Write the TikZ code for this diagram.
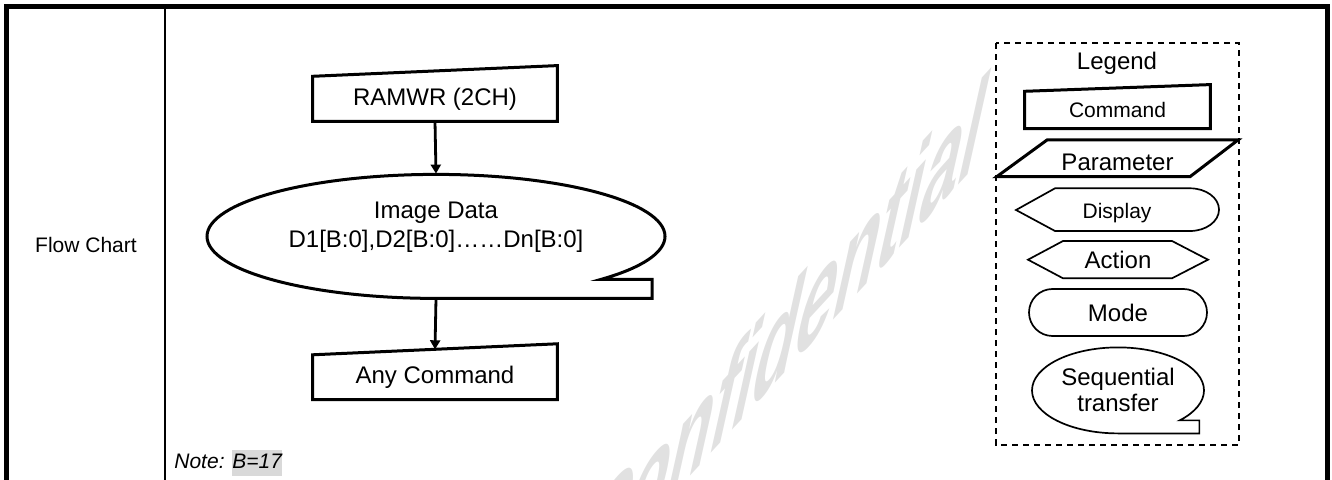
\documentclass[tikz,border=0pt]{standalone}
\usepackage{fontspec}
\setmainfont{Liberation Sans}
\usetikzlibrary{arrows.meta,shapes.geometric}
\definecolor{markgray}{HTML}{D9D9D9}
\definecolor{wmgray}{HTML}{E1E1E1}
\begin{document}
\begin{tikzpicture}[x=0.5pt,y=-0.5pt,
    bigtxt/.style={font=\fontsize{12}{14.4}\selectfont, inner sep=0pt, align=center},
    smalltxt/.style={font=\fontsize{10.5}{12.6}\selectfont, inner sep=0pt, align=center},
    heavy/.style={line width=1.5pt},
    light/.style={line width=0.85pt},
    flow/.style={line width=1.4pt, -{Triangle[width=5pt,length=4.5pt]}}]
    \useasboundingbox (0,0) rectangle (1332,480);
    \clip (0,0) rectangle (1332,480);

    % Watermark
    \begin{scope}[shift={(782,336)}, cm={0.70,0.76,0.33,1.48,(0,0)}]
        \node[text=wmgray, font=\fontsize{50}{50}\selectfont\bfseries, inner sep=0pt, transform shape] (wm) at (0,0) {Confidential};
    \end{scope}

    % Table frame
    \draw[line width=2.5pt] (6.5,490) -- (6.5,6.5) -- (1327.5,6.5) -- (1327.5,490);
    \draw[line width=1.2pt] (165,6.5) -- (165,490);
    \node[smalltxt] (title) at (86,245) {Flow Chart};

    % Flow chart
    \node[bigtxt, minimum width=122pt, minimum height=22.2pt] (ramwr) at (435,98.9) {RAMWR (2CH)};
    \draw[heavy] (ramwr.south west) -- (ramwr.north west) -- ([yshift=5.35pt]ramwr.north east) -- (ramwr.south east) -- cycle;

    \node[ellipse, minimum width=229pt, minimum height=62pt, inner sep=0pt] (img) at (436,236) {};
    \draw[heavy] (img.south) arc[start angle=90, end angle=403.9, x radius=229, y radius=62] -- ++(51,0) |- (img.south);
    \node[bigtxt] (imgtxt) at ([yshift=4.5pt]img.center) {Image Data\\D1[B:0],D2[B:0]……Dn[B:0]};

    \node[bigtxt, minimum width=122pt, minimum height=22pt] (anycmd) at (435,377.2) {Any Command};
    \draw[heavy] (anycmd.south west) -- (anycmd.north west) -- ([yshift=5.5pt]anycmd.north east) -- (anycmd.south east) -- cycle;

    \draw[flow] (ramwr.south) -- (img.north);
    \draw[flow] (img.south) -- ([yshift=2.75pt]anycmd.north);

    % Note
    \node[smalltxt, font=\fontsize{10.5}{12.6}\selectfont\itshape, anchor=west] (note) at (174,463)
        {Note: {\setlength{\fboxsep}{0pt}\colorbox{markgray}{\strut B=17}}};

    % Legend
    \draw[line width=0.85pt, dash pattern=on 3pt off 2.5pt] (996,43.3) rectangle (1239.3,445);
    \node[bigtxt] (lgtitle) at (1117,63.2) {Legend};

    \node[smalltxt, minimum width=92.5pt, minimum height=18.3pt] (lgcmd) at (1117.5,110) {Command};
    \draw[heavy] (lgcmd.south west) -- (lgcmd.north west) -- ([yshift=3.35pt]lgcmd.north east) -- (lgcmd.south east) -- cycle;

    \node[bigtxt] (lgpar) at (1117.5,162.3) {Parameter};
    \draw[heavy] ([shift={(-120.8,14.4)}]lgpar.center) -- ([shift={(-70.5,-22.3)}]lgpar.center)
        -- ([shift={(120.5,-22.3)}]lgpar.center) -- ([shift={(72.5,14.4)}]lgpar.center) -- cycle;

    \node[smalltxt] (lgdisp) at (1117,212.8) {Display};
    \draw[light] ([shift={(-101,-2.8)}]lgdisp.center) -- ([shift={(-62,-24.5)}]lgdisp.center)
        -- ([shift={(73,-24.5)}]lgdisp.center) arc[start angle=-90, end angle=90, x radius=29, y radius=21.35]
        -- ([shift={(-62,18.2)}]lgdisp.center) -- cycle;

    \node[bigtxt] (lgact) at (1118,259.7) {Action};
    \draw[light] ([shift={(-90,0)}]lgact.center) -- ([shift={(-55,-18.7)}]lgact.center)
        -- ([shift={(54,-18.7)}]lgact.center) -- ([shift={(90,0)}]lgact.center)
        -- ([shift={(54,18.6)}]lgact.center) -- ([shift={(-55,18.6)}]lgact.center) -- cycle;

    \node[bigtxt, draw, light, rounded corners=11.75pt, minimum width=89pt, minimum height=23.5pt] (lgmode) at (1118,312.5) {Mode};

    \node[ellipse, font=\fontsize{12}{13.4}\selectfont, align=center, inner sep=0pt,
        minimum width=86pt, minimum height=43pt] (lgseq) at (1118,390) {Sequential\\transfer};
    \draw[light] (lgseq.south) arc[start angle=90, end angle=404.2, x radius=86, y radius=43] -- ++(19.7,0) |- (lgseq.south);
\end{tikzpicture}
\end{document}
